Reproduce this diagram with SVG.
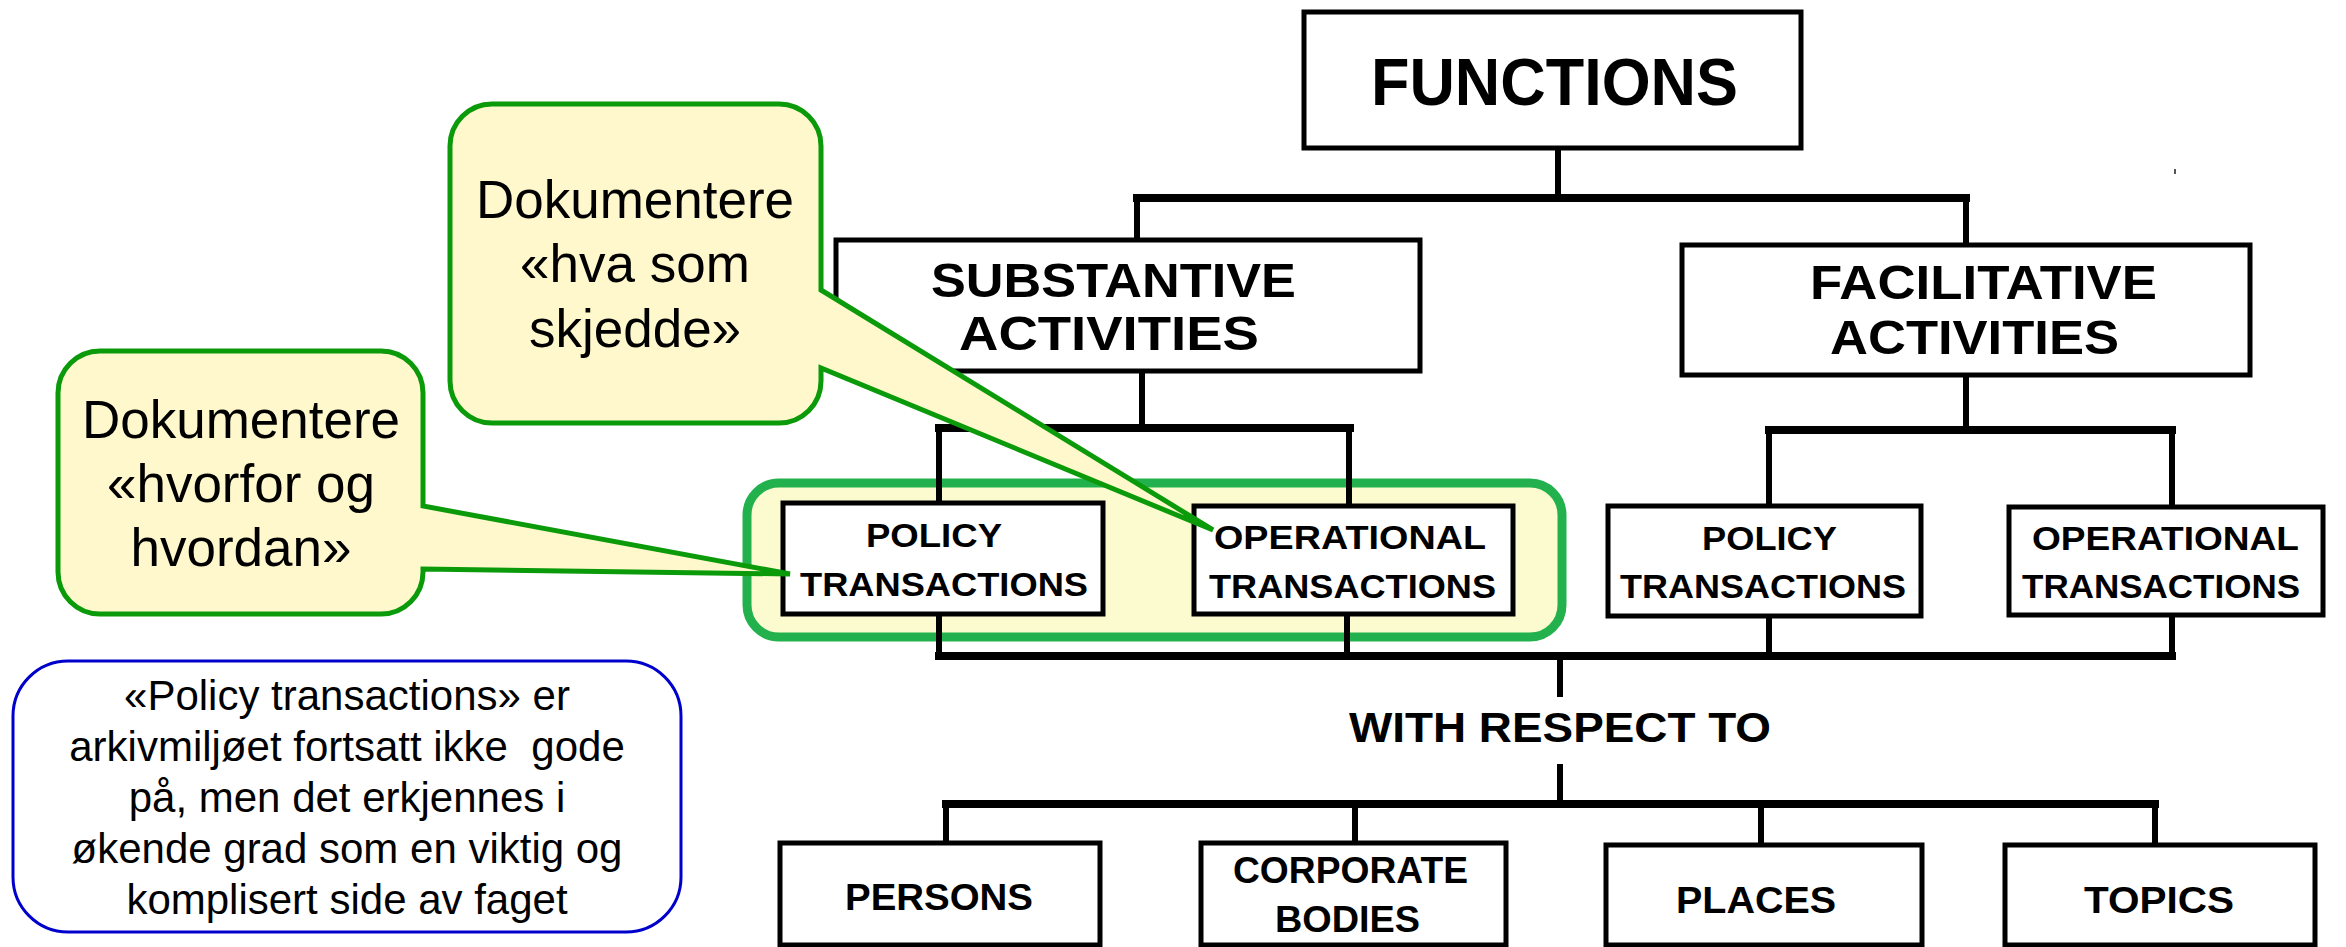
<svg xmlns="http://www.w3.org/2000/svg" width="2346" height="947" viewBox="0 0 2346 947">
<style>
.box{fill:#fff;stroke:#000;stroke-width:5}
.ln{stroke:#000;stroke-width:6;fill:none;stroke-linecap:square}
.bar{stroke:#000;stroke-width:8;fill:none;stroke-linecap:square}
.t{font-family:"Liberation Sans",Arial,sans-serif;font-weight:bold;fill:#000}
.co{fill:#fff8cc;stroke:#0a9a0a;stroke-width:5;stroke-linejoin:miter}
.ct{font-family:"Liberation Sans",Arial,sans-serif;font-size:53px;fill:#000;text-anchor:middle}
.bt{font-family:"Liberation Sans",Arial,sans-serif;font-size:42px;fill:#000;text-anchor:middle}
</style>
<rect width="2346" height="947" fill="#fff"/>
<g id="highlight">
<rect x="747" y="483" width="815" height="154" rx="32" fill="#fcfbd0" stroke="#22b14c" stroke-width="9"/>
</g>
<g id="connectors">
<line class="ln" x1="1558" y1="148" x2="1558" y2="198"/>
<line class="bar" x1="1137" y1="198" x2="1966" y2="198"/>
<line class="ln" x1="1137" y1="198" x2="1137" y2="240"/>
<line class="ln" x1="1966" y1="198" x2="1966" y2="245"/>
<line class="ln" x1="1142" y1="371" x2="1142" y2="428"/>
<line class="bar" x1="939" y1="428" x2="1350" y2="428"/>
<line class="ln" x1="1966" y1="375" x2="1966" y2="430"/>
<line class="bar" x1="1769" y1="430" x2="2172" y2="430"/>
<line class="ln" x1="939" y1="428" x2="939" y2="503"/>
<line class="ln" x1="1349" y1="428" x2="1349" y2="506"/>
<line class="ln" x1="1769" y1="430" x2="1769" y2="506"/>
<line class="ln" x1="2172" y1="430" x2="2172" y2="507"/>
<line class="ln" x1="939" y1="614" x2="939" y2="656"/>
<line class="ln" x1="1347" y1="614" x2="1347" y2="656"/>
<line class="ln" x1="1769" y1="616" x2="1769" y2="656"/>
<line class="ln" x1="2172" y1="615" x2="2172" y2="656"/>
<line class="bar" x1="939" y1="656" x2="2172" y2="656"/>
<line class="ln" x1="1560" y1="656" x2="1560" y2="694"/>
<line class="ln" x1="1560" y1="767" x2="1560" y2="804"/>
<line class="bar" x1="946" y1="804" x2="2155" y2="804"/>
<line class="ln" x1="946" y1="804" x2="946" y2="843"/>
<line class="ln" x1="1355" y1="804" x2="1355" y2="843"/>
<line class="ln" x1="1761" y1="804" x2="1761" y2="845"/>
<line class="ln" x1="2155" y1="804" x2="2155" y2="845"/>
</g>
<g id="functions">
<rect class="box" x="1304" y="12" width="497" height="136"/>
<text class="t" x="1371" y="105" font-size="66" textLength="367" lengthAdjust="spacingAndGlyphs">FUNCTIONS</text>
</g>
<g id="substantive">
<rect class="box" x="836" y="240" width="584" height="131"/>
<text class="t" x="931" y="297" font-size="49" textLength="365" lengthAdjust="spacingAndGlyphs">SUBSTANTIVE</text>
<text class="t" x="959" y="350" font-size="49" textLength="300" lengthAdjust="spacingAndGlyphs">ACTIVITIES</text>
</g>
<g id="facilitative">
<rect class="box" x="1682" y="245" width="568" height="130"/>
<text class="t" x="1810" y="299" font-size="49" textLength="347" lengthAdjust="spacingAndGlyphs">FACILITATIVE</text>
<text class="t" x="1830" y="354" font-size="49" textLength="289" lengthAdjust="spacingAndGlyphs">ACTIVITIES</text>
</g>
<g id="sub-policy">
<rect class="box" x="783" y="503" width="320" height="111"/>
<text class="t" x="866" y="547" font-size="34" textLength="136" lengthAdjust="spacingAndGlyphs">POLICY</text>
<text class="t" x="800" y="596" font-size="34" textLength="288" lengthAdjust="spacingAndGlyphs">TRANSACTIONS</text>
</g>
<g id="sub-operational">
<rect class="box" x="1194" y="506" width="319" height="108"/>
<text class="t" x="1214" y="549" font-size="34" textLength="272" lengthAdjust="spacingAndGlyphs">OPERATIONAL</text>
<text class="t" x="1209" y="598" font-size="34" textLength="287" lengthAdjust="spacingAndGlyphs">TRANSACTIONS</text>
</g>
<g id="fac-policy">
<rect class="box" x="1608" y="506" width="313" height="110"/>
<text class="t" x="1702" y="550" font-size="34" textLength="135" lengthAdjust="spacingAndGlyphs">POLICY</text>
<text class="t" x="1620" y="598" font-size="34" textLength="286" lengthAdjust="spacingAndGlyphs">TRANSACTIONS</text>
</g>
<g id="fac-operational">
<rect class="box" x="2009" y="507" width="314" height="108"/>
<text class="t" x="2032" y="550" font-size="34" textLength="267" lengthAdjust="spacingAndGlyphs">OPERATIONAL</text>
<text class="t" x="2022" y="598" font-size="34" textLength="278" lengthAdjust="spacingAndGlyphs">TRANSACTIONS</text>
</g>
<g id="with-respect">
<text class="t" x="1349" y="742" font-size="43" textLength="422" lengthAdjust="spacingAndGlyphs">WITH RESPECT TO</text>
</g>
<g id="persons">
<rect class="box" x="780" y="843" width="320" height="102"/>
<text class="t" x="845" y="910" font-size="37" textLength="188" lengthAdjust="spacingAndGlyphs">PERSONS</text>
</g>
<g id="corporate">
<rect class="box" x="1201" y="843" width="305" height="102"/>
<text class="t" x="1233" y="883" font-size="36" textLength="235" lengthAdjust="spacingAndGlyphs">CORPORATE</text>
<text class="t" x="1275" y="932" font-size="36" textLength="145" lengthAdjust="spacingAndGlyphs">BODIES</text>
</g>
<g id="places">
<rect class="box" x="1606" y="845" width="316" height="100"/>
<text class="t" x="1676" y="913" font-size="37" textLength="160" lengthAdjust="spacingAndGlyphs">PLACES</text>
</g>
<g id="topics">
<rect class="box" x="2005" y="845" width="310" height="100"/>
<text class="t" x="2084" y="913" font-size="37" textLength="150" lengthAdjust="spacingAndGlyphs">TOPICS</text>
</g>
<rect x="2174" y="169" width="2" height="5" fill="#555"/>
<g id="callout-hva">
<path class="co" d="M492 104 H779 A42 42 0 0 1 821 146 V290 L1213 530 L821 368 V381 A42 42 0 0 1 779 423 H492 A42 42 0 0 1 450 381 V146 A42 42 0 0 1 492 104 Z"/>
<text class="ct" x="635" y="218">Dokumentere</text>
<text class="ct" x="635" y="282">«hva som</text>
<text class="ct" x="635" y="347">skjedde»</text>
</g>
<g id="callout-hvorfor">
<path class="co" d="M100 351 H381 A42 42 0 0 1 423 393 V506 L790 574 L423 569 V572 A42 42 0 0 1 381 614 H100 A42 42 0 0 1 58 572 V393 A42 42 0 0 1 100 351 Z"/>
<text class="ct" x="241" y="438">Dokumentere</text>
<text class="ct" x="241" y="502">«hvorfor og</text>
<text class="ct" x="241" y="566">hvordan»</text>
</g>
<g id="note">
<rect x="13" y="661" width="668" height="271" rx="55" fill="#fff" stroke="#0000cc" stroke-width="3"/>
<text class="bt" x="347" y="710">«Policy transactions» er</text>
<text class="bt" x="347" y="761" xml:space="preserve">arkivmiljøet fortsatt ikke  gode</text>
<text class="bt" x="347" y="812">på, men det erkjennes i</text>
<text class="bt" x="347" y="863">økende grad som en viktig og</text>
<text class="bt" x="347" y="914">komplisert side av faget</text>
</g>
</svg>
